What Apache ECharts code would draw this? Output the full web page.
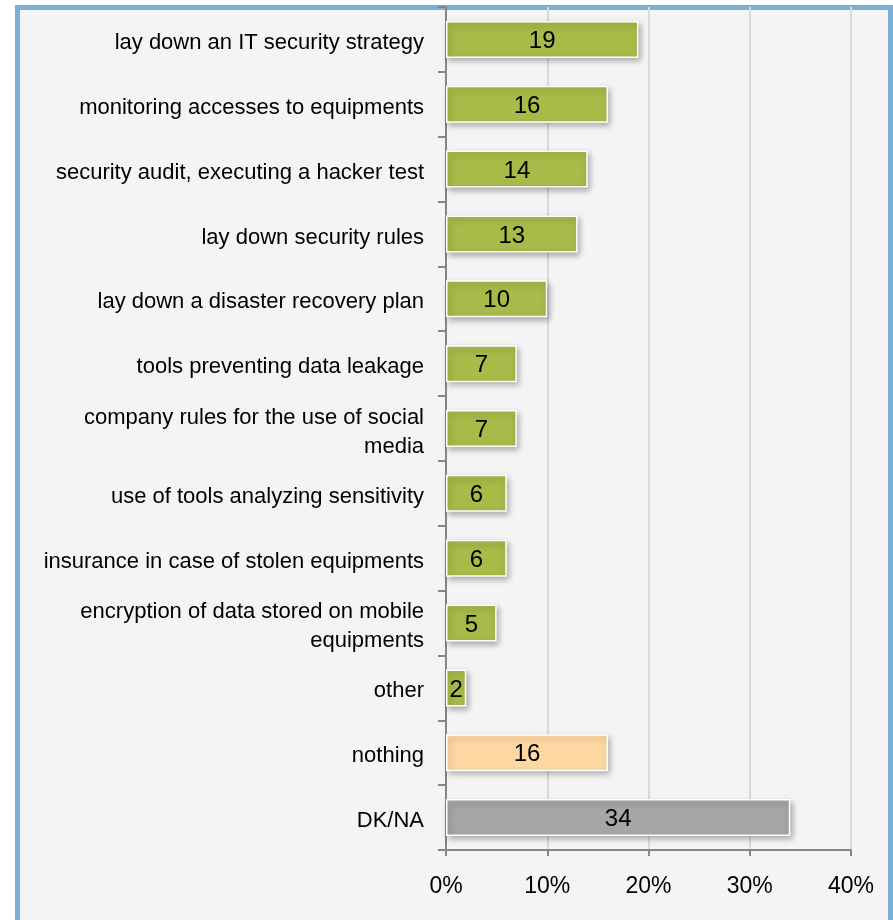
<!DOCTYPE html>
<html>
<head>
<meta charset="utf-8">
<title>IT security measures</title>
<script src="https://cdn.jsdelivr.net/npm/echarts@6/dist/echarts.min.js"></script>
<style>
  html, body { margin: 0; padding: 0; background: #ffffff; }
  #frame {
    position: absolute; left: 15px; top: 5px;
    width: 868px; height: 960px;
    border: 5px solid #7cafd3;
    background: #f4f4f4;
  }
  #chart { position: absolute; left: 0; top: 0; width: 893px; height: 920px; }
</style>
</head>
<body>
<div id="frame"></div>
<div id="chart"></div>
<script>
// Share of respondents (%) per measure
const categories = [
  'lay down an IT security strategy',
  'monitoring accesses to equipments',
  'security audit, executing a hacker test',
  'lay down security rules',
  'lay down a disaster recovery plan',
  'tools preventing data leakage',
  'company rules for the use of social\nmedia',
  'use of tools analyzing sensitivity',
  'insurance in case of stolen equipments',
  'encryption of data stored on mobile\nequipments',
  'other',
  'nothing',
  'DK/NA'
];
const values = [19, 16, 14, 13, 10, 7, 7, 6, 6, 5, 2, 16, 34];
const groups = ['measure', 'measure', 'measure', 'measure', 'measure', 'measure',
  'measure', 'measure', 'measure', 'measure', 'measure', 'nothing', 'dkna'];
const xTicks = [0, 10, 20, 30, 40];

const groupColor = { measure: '#a8ba48', nothing: '#fed8a2', dkna: '#a6a6a6' };
const FONT = '"Liberation Sans", Arial, sans-serif';

const chart = echarts.init(document.getElementById('chart'));
chart.setOption({
  animation: false,
  grid: { left: 446, right: 42, top: 7, bottom: 70, containLabel: false },
  xAxis: {
    type: 'value',
    min: xTicks[0],
    max: xTicks[xTicks.length - 1],
    interval: 10,
    axisLine: { show: true, lineStyle: { color: '#868686', width: 2 } },
    axisTick: { show: true, length: 6, lineStyle: { color: '#868686', width: 2 } },
    axisLabel: {
      formatter: v => v + '%', color: '#000', fontFamily: FONT, fontSize: 23, margin: 25
    },
    splitLine: { show: true, lineStyle: { color: '#d9d9d9', width: 2 } }
  },
  yAxis: {
    type: 'category',
    data: categories,
    inverse: true,
    axisLine: { show: true, lineStyle: { color: '#868686', width: 2 } },
    axisTick: { show: true, length: 8, lineStyle: { color: '#868686', width: 2 } },
    axisLabel: {
      margin: 22,
      align: 'right',
      // each line is a rich fragment, nudged slightly below the tick centre
      formatter: s => s.split('\n').map(t => '{t|' + t + '}').join('\n'),
      rich: {
        t: {
          color: '#000', fontFamily: FONT, fontSize: 22, lineHeight: 29,
          align: 'right', verticalAlign: 'bottom', padding: [8, 0, 0, 0]
        }
      }
    }
  },
  series: [{
    type: 'bar',
    barWidth: 37,
    data: values.map((v, i) => ({
      value: v,
      itemStyle: { color: groupColor[groups[i]] }
    })),
    itemStyle: {
      borderColor: '#ffffff', borderWidth: 1.5,
      shadowColor: 'rgba(0,0,0,0.3)', shadowBlur: 6, shadowOffsetX: 2, shadowOffsetY: 3
    },
    label: {
      show: true, position: 'inside', color: '#000',
      fontFamily: FONT, fontSize: 24, offset: [0, 2]
    }
  }]
});
</script>
</body>
</html>
